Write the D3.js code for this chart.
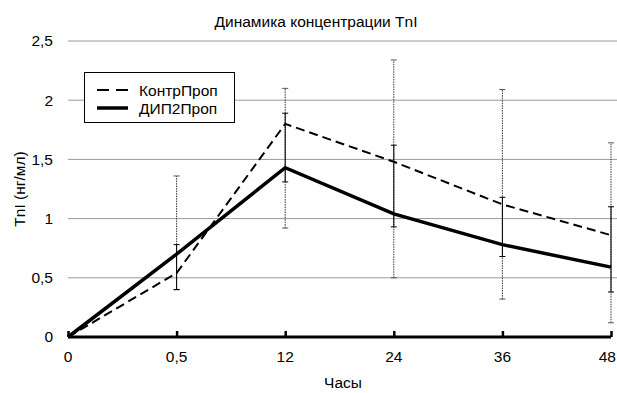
<!DOCTYPE html>
<html>
<head>
<meta charset="utf-8">
<script src="https://cdn.jsdelivr.net/npm/d3@7"></script>
<style>
  body { margin: 0; background: #fff; }
  svg { font-family: "Liberation Sans", Arial, sans-serif; }
</style>
</head>
<body>
<div id="chart"></div>
<script>
// Data
const hours = ['0', '0,5', '12', '24', '36', '48'];
const yTicks = [0, 0.5, 1, 1.5, 2, 2.5];

const controlValues = [0, 0.54, 1.80, 1.48, 1.12, 0.86];
const controlLow = [null, 0.40, 0.92, 0.50, 0.32, 0.12];
const controlHigh = [null, 1.36, 2.10, 2.34, 2.09, 1.64];

const dipValues = [0, 0.70, 1.43, 1.04, 0.78, 0.59];
const dipLow = [null, 0.40, 1.31, 0.93, 0.68, 0.38];
const dipHigh = [null, 0.78, 1.89, 1.62, 1.18, 1.10];

const seriesNames = ['КонтрПроп', 'ДИП2Проп'];

const width = 617;
const height = 393;
const margin = {top: 41, right: 5, bottom: 56, left: 68};
const fontSize = 15.5;

const svg = d3.select('#chart')
  .append('svg')
  .attr('width', width)
  .attr('height', height);

const x = d3.scalePoint()
  .domain(hours)
  .range([margin.left, 611]);

const y = d3.scaleLinear()
  .domain([0, 2.5])
  .range([height - margin.bottom, margin.top]);

// grid lines
svg.append('g')
  .selectAll('line')
  .data(yTicks.filter(d => d > 0))
  .enter()
  .append('line')
  .attr('x1', margin.left)
  .attr('x2', width)
  .attr('y1', d => y(d))
  .attr('y2', d => y(d))
  .attr('stroke', '#9a9a9a')
  .attr('stroke-width', 1);

// y axis labels only
const yAxis = svg.append('g')
  .attr('transform', `translate(${margin.left - 12}, 0)`)
  .call(d3.axisLeft(y).tickValues(yTicks).tickSize(0)
    .tickFormat(d => String(d).replace('.', ',')));
yAxis.select('.domain').remove();
yAxis.selectAll('text')
  .attr('font-size', fontSize)
  .attr('font-family', '"Liberation Sans", Arial, sans-serif')
  .attr('fill', '#000');

// error bars
function errorBars(low, high, cls, dash) {
  const data = hours.map((h, i) => ({h, lo: low[i], hi: high[i]})).filter(d => d.lo !== null);
  const g = svg.append('g').attr('class', cls);
  g.selectAll('line.bar')
    .data(data)
    .enter()
    .append('line')
    .attr('x1', d => x(d.h))
    .attr('x2', d => x(d.h))
    .attr('y1', d => y(d.lo))
    .attr('y2', d => y(d.hi))
    .attr('stroke', dash ? '#333' : '#000')
    .attr('stroke-width', 1)
    .attr('stroke-dasharray', dash);
  ['lo', 'hi'].forEach(k => {
    g.selectAll(`line.cap-${k}`)
      .data(data)
      .enter()
      .append('line')
      .attr('x1', d => x(d.h) - 3)
      .attr('x2', d => x(d.h) + 3)
      .attr('y1', d => y(d[k]))
      .attr('y2', d => y(d[k]))
      .attr('stroke', dash ? '#555' : '#000')
      .attr('stroke-width', 1);
  });
}
errorBars(controlLow, controlHigh, 'err-control', '1.5,1');
errorBars(dipLow, dipHigh, 'err-dip', null);

// series lines
const line = d3.line()
  .x((d, i) => x(hours[i]))
  .y(d => y(d));

svg.append('path')
  .datum(controlValues)
  .attr('d', line)
  .attr('fill', 'none')
  .attr('stroke', '#000')
  .attr('stroke-width', 2)
  .attr('stroke-dasharray', '9,5');

svg.append('path')
  .datum(dipValues)
  .attr('d', line)
  .attr('fill', 'none')
  .attr('stroke', '#000')
  .attr('stroke-width', 3.5)
  .attr('stroke-linejoin', 'miter');

// x axis
const xAxis = svg.append('g')
  .attr('transform', `translate(0, ${y(0)})`)
  .call(d3.axisTop(x).tickSize(6).tickFormat(''));
xAxis.select('.domain')
  .attr('stroke-width', 3)
  .attr('d', `M${x(hours[0])},0H${x(hours[hours.length - 1])}`);
xAxis.selectAll('.tick line')
  .attr('stroke-width', 2.5);

// x labels; the last one is kept inside the page edge
svg.append('g')
  .selectAll('text')
  .data(hours)
  .enter()
  .append('text')
  .attr('x', (d, i) => i === hours.length - 1 ? width - 1 : x(d))
  .attr('y', y(0) + 25)
  .attr('text-anchor', (d, i) => i === hours.length - 1 ? 'end' : 'middle')
  .attr('font-size', fontSize)
  .text(d => d);

// titles
svg.append('text')
  .attr('x', 316)
  .attr('y', 27)
  .attr('text-anchor', 'middle')
  .attr('font-size', fontSize)
  .text('Динамика концентрации TnI');

svg.append('text')
  .attr('x', 343)
  .attr('y', 388)
  .attr('text-anchor', 'middle')
  .attr('font-size', fontSize)
  .text('Часы');

svg.append('text')
  .attr('transform', `translate(25, ${(y(0) + y(2.5)) / 2}) rotate(-90)`)
  .attr('text-anchor', 'middle')
  .attr('font-size', fontSize)
  .text('TnI (нг/мл)');

// legend
const legend = svg.append('g').attr('transform', 'translate(84, 72)');
legend.append('rect')
  .attr('x', 0.5)
  .attr('y', 0.5)
  .attr('width', 150)
  .attr('height', 50)
  .attr('fill', '#fff')
  .attr('stroke', '#000')
  .attr('stroke-width', 1);

const legendRows = legend.selectAll('g.row')
  .data(seriesNames)
  .enter()
  .append('g')
  .attr('transform', (d, i) => `translate(0, ${18 + i * 18})`);

legendRows.append('line')
  .attr('x1', 13)
  .attr('x2', 44)
  .attr('stroke', '#000')
  .attr('stroke-width', (d, i) => i === 0 ? 2 : 3.5)
  .attr('stroke-dasharray', (d, i) => i === 0 ? '12,7' : null);

legendRows.append('text')
  .attr('x', 55)
  .attr('y', 5.5)
  .attr('font-size', fontSize)
  .text(d => d);
</script>
</body>
</html>
